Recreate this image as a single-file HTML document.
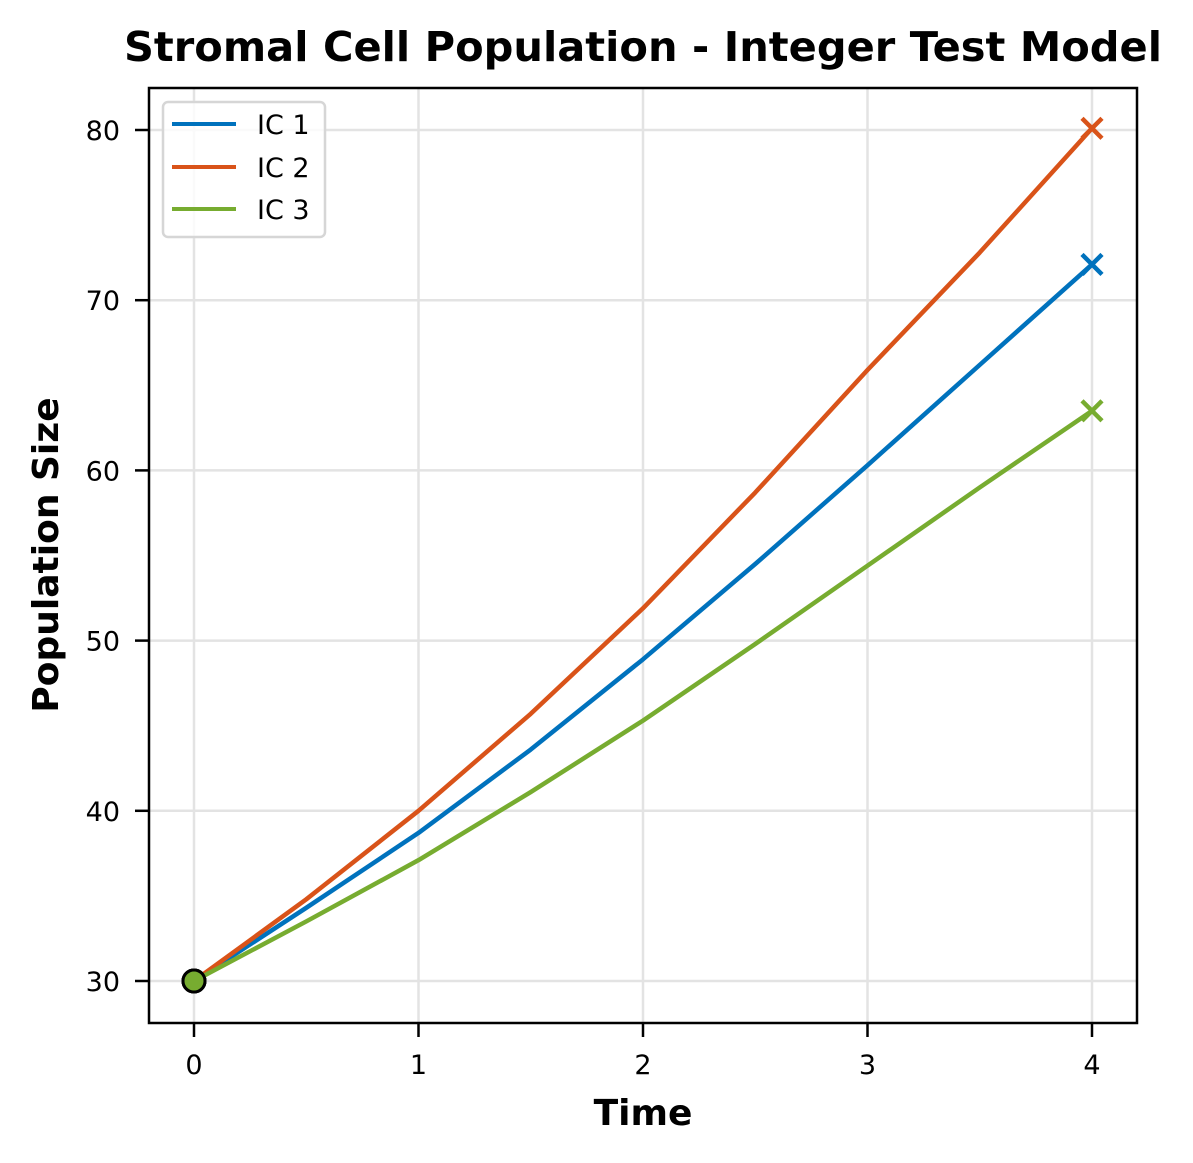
<!DOCTYPE html>
<html><head><meta charset="utf-8"><style>
body{margin:0;background:#fff;}
svg{display:block;font-family:"DejaVu Sans","Liberation Sans",sans-serif;}
</style></head><body>
<svg id="chart" width="1193" height="1163">
<text x="643" y="61" text-anchor="middle" font-size="41" font-weight="bold" textLength="1038" lengthAdjust="spacingAndGlyphs">Stromal Cell Population - Integer Test Model</text>
<text x="643" y="1125" text-anchor="middle" font-size="36" font-weight="bold">Time</text>
<text transform="translate(58,555) rotate(-90)" text-anchor="middle" font-size="36" font-weight="bold">Population Size</text>
<g id="grid"></g><g id="series"></g><g id="ticks"></g>
<rect x="149" y="88" width="988" height="935" fill="none" stroke="#000" stroke-width="2.5"/>
<g>
<rect x="163" y="102" width="162" height="135" rx="5" fill="#fff" fill-opacity="0.8" stroke="#d6d6d6" stroke-width="2.5"/>
<line x1="172" y1="124" x2="236" y2="124" stroke="#0072BD" stroke-width="4"/><text x="257" y="134" font-size="27">IC 1</text>
<line x1="172" y1="167" x2="236" y2="167" stroke="#D95319" stroke-width="4"/><text x="257" y="177" font-size="27">IC 2</text>
<line x1="172" y1="209" x2="236" y2="209" stroke="#77AC30" stroke-width="4"/><text x="257" y="219" font-size="27">IC 3</text>
</g>
</svg>
<script>
const times=[0,0.5,1,1.5,2,2.5,3,3.5,4];
const ic1=[30,34.3,38.7,43.6,48.9,54.5,60.3,66.2,72.1];
const ic2=[30,34.8,40.0,45.7,51.9,58.7,65.9,72.8,80.1];
const ic3=[30,33.5,37.1,41.1,45.3,49.8,54.4,59.0,63.5];
const xTicks=[0,1,2,3,4];
const yTicks=[30,40,50,60,70,80];
const NS="http://www.w3.org/2000/svg";
const X=v=>194+v*224.5, Y=v=>981-(v-30)*17.02;
function mk(t,a,p){const e=document.createElementNS(NS,t);for(const k in a)e.setAttribute(k,a[k]);p.appendChild(e);return e;}
const grid=document.getElementById('grid'),ticks=document.getElementById('ticks'),ser=document.getElementById('series');
xTicks.forEach(t=>{
const g=mk('line',{x1:X(t),x2:X(t),y1:88,y2:1023,stroke:'#e3e3e3','stroke-width':2.5},grid);


mk('line',{x1:X(t),x2:X(t),y1:1023,y2:1037,stroke:'#000','stroke-width':2.5},ticks);
const l=mk('text',{x:X(t),y:1074,'text-anchor':'middle','font-size':27},ticks);l.textContent=t;


});
yTicks.forEach(t=>{
const g=mk('line',{x1:149,x2:1137,y1:Y(t),y2:Y(t),stroke:'#e3e3e3','stroke-width':2.5},grid);


mk('line',{x1:135,x2:149,y1:Y(t),y2:Y(t),stroke:'#000','stroke-width':2.5},ticks);
const l=mk('text',{x:120,y:Y(t)+10,'text-anchor':'end','font-size':27},ticks);l.textContent=t;


});
[[ic1,'#0072BD','ic1'],[ic2,'#D95319','ic2'],[ic3,'#77AC30','ic3']].forEach(([d,c,n])=>{
const p=mk('path',{d:'M'+d.map((v,i)=>X(times[i])+','+Y(v)).join(' L'),fill:'none',stroke:c,'stroke-width':4.5,'stroke-linejoin':'round'},ser);


const xe=X(times[times.length-1]),ye=Y(d[d.length-1]);
const m=mk('path',{d:`M${xe-10},${ye-10} L${xe+10},${ye+10} M${xe-10},${ye+10} L${xe+10},${ye-10}`,stroke:c,'stroke-width':4.5},ser);


const s=mk('circle',{cx:X(times[0]),cy:Y(d[0]),r:11,fill:c,stroke:'#000','stroke-width':3},ser);


});
</script>
</body></html>
